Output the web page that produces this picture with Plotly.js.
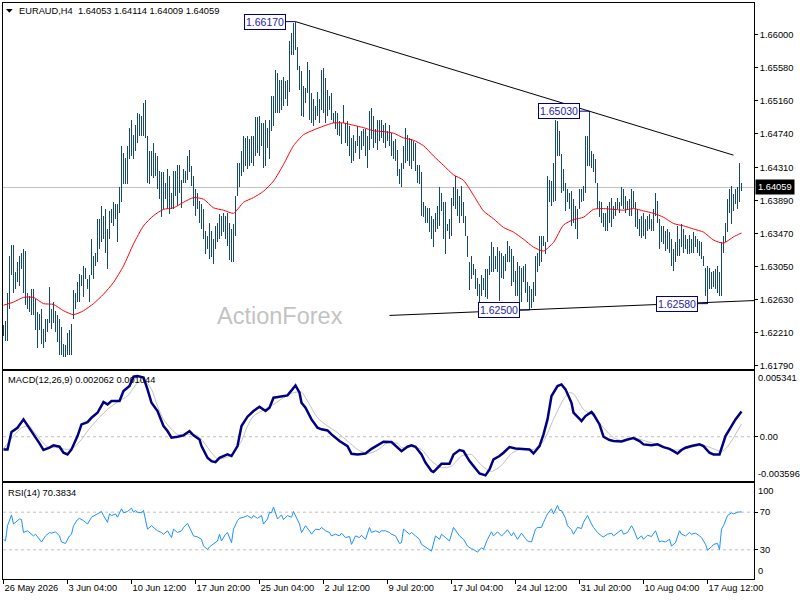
<!DOCTYPE html>
<html><head><meta charset="utf-8">
<script src="https://cdn.plot.ly/plotly-3.0.1.min.js"></script>
<style>html,body{margin:0;padding:0;background:#fff;}#chart{width:800px;height:600px;}</style>
</head><body><div id="chart"></div>
<script>
// ---------- data (EURAUD, H4) ----------
const symbol = "EURAUD,H4";
const lastOHLC = [1.64053, 1.64114, 1.64009, 1.64059];

const highs = [
1.6231,1.6236,1.6272,1.6319,1.6333,1.6333,1.6298,1.6311,1.6319,1.6323,
1.6327,1.6325,1.6272,1.6268,1.6277,1.6277,1.6264,1.6247,1.6245,1.6251,
1.6226,1.6239,1.6239,1.6279,1.6251,1.6260,1.6249,1.6243,1.6239,1.6228,
1.6207,1.6205,1.6220,1.6224,1.6232,1.6275,1.6272,1.6285,1.6296,1.6294,
1.6306,1.6303,1.6289,1.6294,1.6340,1.6319,1.6323,1.6366,1.6366,1.6382,
1.6370,1.6378,1.6353,1.6376,1.6378,1.6387,1.6385,1.6385,1.6406,1.6459,
1.6450,1.6444,1.6459,1.6482,1.6492,1.6473,1.6486,1.6501,1.6499,1.6497,
1.6514,1.6517,1.6471,1.6452,1.6452,1.6463,1.6450,1.6446,1.6427,1.6425,
1.6425,1.6412,1.6429,1.6420,1.6399,1.6427,1.6427,1.6435,1.6435,1.6416,
1.6429,1.6427,1.6446,1.6454,
1.6433,1.6420,1.6404,1.6399,1.6389,1.6385,1.6378,1.6351,1.6344,1.6361,
1.6351,1.6340,1.6357,1.6361,1.6372,1.6370,1.6374,1.6370,1.6374,1.6361,
1.6353,1.6359,1.6395,1.6437,1.6437,1.6452,1.6471,1.6469,1.6471,1.6467,
1.6471,1.6471,1.6495,1.6495,1.6497,1.6488,1.6488,1.6492,1.6482,1.6492,
1.6522,1.6522,1.6556,1.6552,1.6543,1.6543,1.6547,1.6541,1.6543,1.6592,
1.6602,1.6615,1.6617,1.6585,1.6560,1.6554,1.6535,1.6533,1.6566,1.6556,
1.6526,1.6518,1.6509,1.6528,1.6518,1.6556,1.6558,1.6545,1.6530,1.6522,
1.6526,1.6501,1.6503,1.6501,1.6490,1.6488,1.6511,1.6488,1.6490,1.6484,
1.6469,1.6473,1.6465,1.6484,1.6471,1.6478,1.6480,1.6480,1.6471,1.6503,
1.6507,1.6497,
1.6480,1.6492,1.6492,1.6492,1.6486,1.6488,1.6478,1.6486,1.6475,1.6465,
1.6467,1.6454,1.6429,1.6437,1.6459,1.6482,1.6473,1.6469,1.6467,1.6465,
1.6463,1.6435,1.6435,1.6425,1.6387,1.6382,1.6380,1.6380,1.6370,1.6366,
1.6374,1.6382,1.6406,1.6399,1.6387,1.6387,1.6359,1.6366,1.6393,1.6406,
1.6420,1.6404,1.6395,1.6408,1.6387,1.6370,1.6344,1.6311,1.6319,1.6308,
1.6302,1.6291,1.6283,1.6294,1.6291,1.6302,1.6302,1.6319,1.6336,1.6330,
1.6319,1.6330,1.6325,1.6323,1.6319,1.6321,1.6338,1.6332,1.6327,1.6319,
1.6300,1.6311,1.6306,1.6304,1.6306,1.6308,1.6285,1.6281,1.6277,1.6285,
1.6319,1.6323,1.6344,1.6344,1.6344,1.6336,1.6420,1.6416,1.6414,1.6437,
1.6492,1.6490,1.6478,
1.6448,1.6429,1.6412,1.6404,1.6399,1.6401,1.6391,1.6382,1.6378,1.6404,
1.6404,1.6408,1.6471,1.6471,1.6503,1.6452,1.6448,1.6442,1.6412,1.6389,
1.6387,1.6374,1.6374,1.6382,1.6387,1.6393,1.6382,1.6387,1.6393,1.6387,
1.6406,1.6404,1.6395,1.6389,1.6391,1.6404,1.6401,1.6387,1.6378,1.6366,
1.6370,1.6374,1.6366,1.6370,1.6372,1.6366,1.6378,1.6399,1.6389,1.6366,
1.6357,1.6357,1.6351,1.6353,1.6349,1.6340,1.6327,1.6336,1.6357,1.6340,
1.6359,1.6353,1.6346,1.6340,1.6346,1.6340,1.6349,1.6344,1.6340,1.6338,
1.6336,1.6319,1.6304,1.6306,1.6304,1.6298,1.6300,1.6302,1.6306,1.6298,
1.6336,1.6344,1.6361,1.6391,1.6404,1.6408,1.6397,1.6404,1.6406,1.6437,
1.64114];

const lows = [
1.6217,1.6210,1.6210,1.6251,1.6294,1.6272,1.6277,1.6285,1.6281,1.6302,
1.6272,1.6256,1.6251,1.6247,1.6243,1.6243,1.6224,1.6201,1.6224,1.6207,
1.6201,1.6209,1.6222,1.6234,1.6226,1.6234,1.6222,1.6209,1.6192,1.6192,
1.6190,1.6190,1.6192,1.6192,1.6192,1.6239,1.6251,1.6260,1.6260,1.6281,
1.6266,1.6289,1.6277,1.6260,1.6294,1.6289,1.6306,1.6311,1.6327,1.6336,
1.6340,1.6323,1.6302,1.6340,1.6361,1.6357,1.6366,1.6336,1.6374,1.6387,
1.6410,1.6410,1.6410,1.6442,1.6446,1.6442,1.6452,1.6463,1.6471,1.6471,
1.6471,1.6469,1.6412,1.6410,1.6420,1.6418,1.6420,1.6404,1.6391,1.6368,
1.6378,1.6391,1.6378,1.6372,1.6378,1.6378,1.6395,1.6382,1.6399,1.6380,
1.6412,1.6412,1.6416,1.6425,
1.6408,1.6382,1.6370,1.6378,1.6361,1.6353,1.6340,1.6321,1.6327,1.6315,
1.6317,1.6308,1.6327,1.6336,1.6340,1.6344,1.6349,1.6340,1.6332,1.6313,
1.6311,1.6311,1.6344,1.6395,1.6406,1.6420,1.6425,1.6433,1.6429,1.6433,
1.6437,1.6433,1.6446,1.6450,1.6446,1.6459,1.6431,1.6433,1.6456,1.6442,
1.6478,1.6484,1.6501,1.6501,1.6501,1.6505,1.6509,1.6518,1.6509,1.6528,
1.6575,1.6575,1.6581,1.6556,1.6530,1.6497,1.6495,1.6514,1.6526,1.6492,
1.6488,1.6484,1.6492,1.6497,1.6488,1.6505,1.6501,1.6488,1.6497,1.6505,
1.6492,1.6488,1.6480,1.6473,1.6471,1.6461,1.6488,1.6463,1.6459,1.6446,
1.6437,1.6440,1.6450,1.6459,1.6442,1.6454,1.6459,1.6446,1.6431,1.6454,
1.6467,1.6456,
1.6463,1.6454,1.6465,1.6469,1.6463,1.6456,1.6465,1.6459,1.6446,1.6442,
1.6440,1.6420,1.6410,1.6406,1.6429,1.6437,1.6440,1.6433,1.6429,1.6440,
1.6427,1.6412,1.6410,1.6370,1.6368,1.6361,1.6361,1.6349,1.6340,1.6330,
1.6349,1.6353,1.6357,1.6376,1.6340,1.6321,1.6351,1.6340,1.6344,1.6382,
1.6378,1.6370,1.6361,1.6370,1.6361,1.6344,1.6317,1.6275,1.6289,1.6294,
1.6277,1.6268,1.6260,1.6268,1.6275,1.6266,1.6264,1.6294,1.6298,1.6298,
1.6302,1.6298,1.6262,1.6291,1.6289,1.6300,1.6311,1.6311,1.6281,1.6285,
1.6268,1.6268,1.6260,1.6260,1.6285,1.6272,1.6260,1.6250,1.6253,1.6260,
1.6268,1.6298,1.6306,1.6311,1.6332,1.6321,1.6336,1.6387,1.6382,1.6387,
1.6389,1.6446,1.6446,
1.6399,1.6401,1.6376,1.6387,1.6378,1.6357,1.6361,1.6353,1.6340,1.6378,
1.6387,1.6389,1.6399,1.6433,1.6433,1.6431,1.6425,1.6412,1.6378,1.6368,
1.6361,1.6355,1.6351,1.6351,1.6361,1.6355,1.6366,1.6370,1.6378,1.6374,
1.6382,1.6378,1.6374,1.6378,1.6370,1.6370,1.6380,1.6355,1.6353,1.6344,
1.6342,1.6344,1.6340,1.6351,1.6353,1.6351,1.6351,1.6370,1.6361,1.6327,
1.6336,1.6334,1.6325,1.6327,1.6323,1.6306,1.6300,1.6311,1.6319,1.6319,
1.6330,1.6323,1.6327,1.6321,1.6321,1.6323,1.6323,1.6330,1.6323,1.6319,
1.6315,1.6306,1.6268,1.6258,1.6277,1.6277,1.6279,1.6277,1.6272,1.6268,
1.6268,1.6323,1.6336,1.6349,1.6374,1.6359,1.6376,1.6385,1.6378,1.6387,
1.64009];

// moving average (red), sampled along the bars
const maIdx = [0,5,10,15,20,25,30,35,40,45,50,55,60,65,70,75,80,85,90,95,100,105,110,115,120,125,130,135,140,145,150,155,160,165,170,175,180,185,190,195,200,205,210,215,220,225,230,235,240,245,250,255,260,265,270,275,280,285,290,295,300,305,310,315,320,325,330,335,340,345,350,355,360,365,369];
const maVals = [1.6256,1.6260,1.6266,1.6266,1.6258,1.6257,1.6249,1.6244,1.6249,1.6258,1.6270,1.6285,1.6306,1.6334,1.6357,1.6370,1.6378,1.6380,1.6387,1.6393,1.6391,1.6380,1.6377,1.6373,1.6387,1.6393,1.6401,1.6414,1.6435,1.6459,1.6473,1.6479,1.6484,1.6488,1.6488,1.6485,1.6482,1.6478,1.6477,1.6475,1.6469,1.6466,1.6459,1.6446,1.6434,1.6422,1.6415,1.6396,1.6376,1.6366,1.6355,1.6349,1.6340,1.6330,1.6325,1.6336,1.6358,1.6365,1.6368,1.6378,1.6379,1.6378,1.6377,1.6379,1.6376,1.6373,1.6368,1.6360,1.6357,1.6353,1.6349,1.6339,1.6335,1.6343,1.6348];

// trend lines and marked extremes
const upperIdx = [146, 365];   const upperPrice = [1.6617, 1.6447];
const lowerIdx = [193, 376];   const lowerPrice = [1.6243, 1.6262];
const markIdx = [146, 293, 263, 352];
const markPrice = [1.66170, 1.65030, 1.62500, 1.62580];

// MACD(12,26,9)
const macdIdx = [0,2,4,7,10,13,15,18,20,23,25,28,30,32,34,37,39,42,44,47,50,52,54,58,60,63,65,67,70,72,74,77,80,82,84,87,90,93,95,98,99,102,104,106,108,112,114,117,119,122,125,128,131,133,135,138,142,146,148,149,151,154,157,159,162,164,168,172,174,177,181,184,187,190,194,196,199,202,204,206,209,211,214,215,218,219,223,225,228,230,233,235,238,241,243,245,248,250,253,256,260,263,265,268,270,272,274,277,279,281,284,285,288,289,291,294,295,298,300,303,305,309,312,315,318,320,324,327,330,333,335,337,339,341,344,348,350,353,355,358,361,364,366,369];
const macdVals = [-0.00103,-0.00103,0.00038,0.00073,0.00141,0.00073,0.00019,-0.00054,-0.00108,-0.00089,
-0.00070,-0.00081,-0.00130,-0.00144,-0.00103,0.00005,0.00100,0.00119,0.00154,0.00195,
0.00282,0.00263,0.00290,0.00290,0.00371,0.00412,0.00488,0.00493,0.00480,0.00385,
0.00276,0.00209,0.00087,0.00046,-0.00008,0.00000,0.00011,0.00046,0.00011,-0.00022,
-0.00076,-0.00171,-0.00198,-0.00206,-0.00171,-0.00144,-0.00157,-0.00076,0.00087,0.00163,
0.00209,0.00244,0.00209,0.00236,0.00317,0.00325,0.00336,0.00417,0.00358,0.00276,
0.00236,0.00141,0.00073,0.00060,0.00051,0.00019,-0.00035,-0.00076,-0.00138,-0.00144,
-0.00136,-0.00098,-0.00070,-0.00041,-0.00043,-0.00070,
-0.00117,-0.00081,-0.00070,-0.00081,
-0.00144,-0.00211,-0.00279,-0.00287,-0.00238,-0.00220,-0.00220,-0.00144,-0.00108,-0.00117,
-0.00198,-0.00238,-0.00298,-0.00314,-0.00266,-0.00184,-0.00157,-0.00130,-0.00084,-0.00095,
-0.00098,-0.00103,-0.00136,-0.00076,0.00019,0.00141,0.00331,0.00412,0.00425,0.00385,
0.00276,0.00195,0.00146,0.00127,0.00168,0.00201,0.00182,0.00100,0.00000,-0.00027,
-0.00035,-0.00038,-0.00022,-0.00011,-0.00035,-0.00062,-0.00070,-0.00062,-0.00084,-0.00098,
-0.00117,-0.00136,-0.00108,-0.00089,-0.00076,-0.00062,-0.00076,-0.00130,-0.00144,-0.00144,
0.00005,0.00092,0.00141,0.00206];
const sigIdx = [0,5,9,13,15,19,22,27,32,35,39,42,47,52,57,62,67,70,74,77,80,84,87,92,97,100,104,107,112,115,119,122,125,130,135,140,145,149,152,157,162,167,172,177,182,187,192,197,199,204,209,214,219,224,229,234,239,244,249,254,259,265,270,275,280,283,285,290,295,300,305,310,315,320,325,330,335,340,345,350,355,359,362,365,369];
const sigVals = [-0.00098,0.00005,0.00073,0.00087,0.00046,-0.00035,-0.00081,-0.00089,-0.00103,-0.00089,
-0.00022,0.00046,0.00141,0.00222,0.00282,0.00331,0.00439,0.00466,0.00385,0.00249,
0.00141,0.00060,0.00019,0.00019,0.00011,-0.00043,-0.00130,-0.00179,-0.00165,-0.00130,
-0.00035,0.00087,0.00168,0.00217,0.00263,0.00317,0.00358,0.00363,0.00290,0.00154,
0.00087,0.00033,-0.00035,-0.00103,-0.00138,-0.00108,-0.00049,-0.00054,
-0.00089,-0.00081,-0.00103,-0.00198,-0.00252,-0.00238,-0.00157,-0.00144,-0.00233,-0.00282,
-0.00233,-0.00136,-0.00098,-0.00103,-0.00035,0.00141,0.00304,0.00358,0.00350,0.00222,
0.00168,0.00073,-0.00008,-0.00035,-0.00008,-0.00030,-0.00054,-0.00081,-0.00108,-0.00103,
-0.00081,-0.00070,-0.00098,-0.00122,-0.00081,-0.00008,0.00104];
const macdLast = [0.002062, 0.001044];
const macdRange = [-0.003596, 0.005341];

// RSI(14)
const rsiIdx = [0,1,2,4,5,6,8,9,10,12,13,15,16,18,19,21,23,24,26,28,29,31,33,34,35,37,38,40,42,44,46,48,49,50,52,53,54,56,57,59,60,62,64,65,66,67,69,70,72,74,75,77,79,80,82,84,85,87,89,90,92,94,95,97,99,100,102,103,105,107,108,109,111,112,114,115,117,118,120,122,124,125,127,129,130,132,133,134,135,137,139,140,142,144,145,147,148,149,151,153,154,156,158,159,161,163,164,166,168,169,171,173,174,176,178,179,181,183,184,186,188,189,191,193,194,196,198,
199,200,203,204,206,208,209,211,213,214,216,218,219,221,223,225,227,228,230,232,234,235,237,239,240,242,244,245,247,249,250,252,254,255,257,259,261,262,264,266,267,269,270,272,274,275,277,278,279,281,282,284,285,287,289,290,292,293,294,295,297,299,300,302,304,305,307,309,310,312,314,315,317,319,320,322,324,326,328,329,331,333,334,336,338,339,341,343,344,346,348,349,351,352,354,355,357,358,359,360,362,364,365,367,369];
const rsiVals = [41.2,39.4,55.6,67.1,57.4,59.2,62.8,62.1,48.4,50.2,48.4,44.8,46.6,41.2,38.3,44.8,48.4,47.7,49.1,44.8,
38.3,36.8,44.8,46.6,55.6,62.1,63.5,61.0,57.4,64.6,67.1,69.3,70.7,66.4,59.2,68.2,66.4,68.2,64.6,73.6,
69.3,70.7,74.3,70.0,71.8,70.0,69.3,71.8,52.0,55.6,53.8,50.2,48.4,46.6,50.2,43.0,52.0,48.4,50.2,53.8,
58.1,50.2,44.8,43.7,41.2,34.0,30.4,33.2,36.5,39.4,46.6,39.4,46.6,48.4,37.6,52.0,61.0,63.5,64.6,66.4,
63.5,66.4,63.5,66.4,57.4,62.8,70.0,69.3,75.4,62.8,67.1,62.1,66.4,64.6,70.7,61.0,57.4,48.4,55.6,50.2,
46.6,52.0,51.3,53.8,50.2,48.4,44.8,46.6,44.8,47.7,43.0,44.1,35.8,44.8,43.0,45.5,41.2,53.8,48.4,50.2,
48.4,50.2,50.2,48.4,46.6,44.8,36.8,
37.6,52.0,46.6,48.4,44.8,41.2,35.8,33.2,30.4,28.6,44.8,41.2,46.6,43.0,39.4,53.8,48.4,44.8,41.2,34.0,
31.1,30.4,27.5,32.2,30.4,41.2,49.1,44.8,49.1,44.8,46.6,51.3,44.8,48.4,41.2,47.7,41.9,39.4,38.3,52.0,
53.8,53.8,59.2,68.2,73.6,68.2,77.2,71.8,71.8,63.5,55.6,51.3,46.6,53.8,52.7,59.2,66.4,61.0,57.4,53.8,
48.4,44.8,43.7,46.6,47.7,44.8,48.4,51.3,46.6,48.4,55.6,52.0,41.2,44.8,41.2,45.5,44.1,50.2,38.3,39.4,
38.3,41.2,34.0,37.6,50.2,46.6,44.8,48.4,46.6,47.7,44.8,43.0,35.8,29.6,33.2,35.8,36.8,30.4,52.0,55.6,
66.4,69.3,68.2,70.0,70.38];
const rsiLast = 70.3834;
const rsiLevels = [70, 30];
const rsiBounds = [100, 0];

// price axis labels and time axis labels
const priceTicks = [1.66000,1.65580,1.65160,1.64740,1.64310,1.63890,1.63470,1.63050,1.62630,1.62210,1.61790];
const timeTickIdx = [0,32,64,96,128,160,192,224,256,288,320,352];
const timeTickLabels = ['26 May 2026','3 Jun 04:00','10 Jun 12:00','17 Jun 20:00','25 Jun 04:00','2 Jul 12:00','9 Jul 20:00','17 Jul 04:00','24 Jul 12:00','31 Jul 20:00','10 Aug 04:00','17 Aug 12:00'];

// ---------- build ----------
const N = Math.min(highs.length, lows.length);
const barX = [], barY = [];
for (let k = 0; k < N; k++) { barX.push(k, k, null); barY.push(lows[k], highs[k], null); }

const FONT = 'Liberation Sans, Arial, sans-serif';
const FS = 9.3;
const PX = X => (X - 3) / 751;
const PY = Y => (579 - Y) / 576;
const XR = [-0.25, 375.25];

const data = [
  {type:'scatter', mode:'lines', name:'bars', x:barX, y:barY, connectgaps:false,
   line:{color:'#15496b', width:1}, hoverinfo:'skip', xaxis:'x', yaxis:'y'},
  {type:'scatter', mode:'lines', name:'ma', x:maIdx, y:maVals,
   line:{color:'#ff0000', width:1, shape:'spline', smoothing:0.6}, xaxis:'x', yaxis:'y'},
  {type:'scatter', mode:'lines', name:'upper', x:upperIdx, y:upperPrice,
   line:{color:'#000000', width:1}, xaxis:'x', yaxis:'y'},
  {type:'scatter', mode:'lines', name:'lower', x:lowerIdx, y:lowerPrice,
   line:{color:'#000000', width:1}, xaxis:'x', yaxis:'y'},
  {type:'scatter', mode:'lines', name:'signal', x:sigIdx, y:sigVals,
   line:{color:'#c0c0c0', width:1, shape:'spline', smoothing:0.6}, xaxis:'x2', yaxis:'y2'},
  {type:'scatter', mode:'lines', name:'macd', x:macdIdx, y:macdVals,
   line:{color:'#000080', width:2.5}, xaxis:'x2', yaxis:'y2'},
  {type:'scatter', mode:'lines', name:'rsi', x:rsiIdx, y:rsiVals,
   line:{color:'#1e90ff', width:1}, xaxis:'x3', yaxis:'y3'}
];

const axBase = {showgrid:false, zeroline:false, showline:true, mirror:true, linecolor:'#000', linewidth:1, fixedrange:true};
const tickFont = {family:FONT, size:FS, color:'#000'};

const annotations = [
  {xref:'paper', yref:'paper', x:PX(16.5), y:PY(11), xanchor:'left', yanchor:'middle', showarrow:false,
   text: symbol + '  ' + lastOHLC.map(v => v.toFixed(5)).join(' '), font:{family:FONT, size:FS, color:'#000'}},
  {xref:'paper', yref:'paper', x:PX(6), y:PY(380), xanchor:'left', yanchor:'middle', showarrow:false,
   text:'MACD(12,26,9) ' + macdLast.map(v => v.toFixed(6)).join(' '), font:{family:FONT, size:FS, color:'#000'}},
  {xref:'paper', yref:'paper', x:PX(6), y:PY(492.5), xanchor:'left', yanchor:'middle', showarrow:false,
   text:'RSI(14) ' + rsiLast.toFixed(4), font:{family:FONT, size:FS, color:'#000'}},
  {xref:'paper', yref:'paper', x:PX(279.5), y:PY(316), xanchor:'center', yanchor:'middle', showarrow:false,
   text:'ActionForex', font:{family:FONT, size:23.5, color:'#c3c3c3'}},
  {xref:'paper', yref:'y', x:1, y:lastOHLC[3], xanchor:'left', yanchor:'middle', xshift:1, showarrow:false,
   text:lastOHLC[3].toFixed(5), bgcolor:'#000', borderpad:2, font:{family:FONT, size:FS, color:'#fff'}},
  {xref:'paper', yref:'y2', x:1, y:macdRange[1], xanchor:'left', yanchor:'top', xshift:2, showarrow:false,
   text:macdRange[1].toFixed(6), font:tickFont},
  {xref:'paper', yref:'y2', x:1, y:macdRange[0], xanchor:'left', yanchor:'bottom', xshift:2, showarrow:false,
   text:macdRange[0].toFixed(6), font:tickFont},
  {xref:'paper', yref:'y3', x:1, y:rsiBounds[0], xanchor:'left', yanchor:'top', xshift:2, showarrow:false,
   text:String(rsiBounds[0]), font:tickFont},
  {xref:'paper', yref:'y3', x:1, y:rsiBounds[1], xanchor:'left', yanchor:'bottom', xshift:2, showarrow:false,
   text:String(rsiBounds[1]), font:tickFont}
];
for (let k = 0; k < markIdx.length; k++) {
  annotations.push({xref:'x', yref:'y', x:markIdx[k], y:markPrice[k], text:markPrice[k].toFixed(5),
    showarrow:true, arrowhead:0, arrowwidth:1, arrowcolor:'#000080', ax:-31, ay:0, standoff:0,
    bordercolor:'#000080', borderwidth:1, borderpad:1, bgcolor:'#ffffff',
    font:{family:FONT, size:10.5, color:'#2424a8'}});
}

const shapes = [
  // small drop-down triangle in the header
  {type:'path', xref:'paper', yref:'paper',
   path:'M ' + PX(6) + ',' + PY(9) + ' L ' + PX(12.7) + ',' + PY(9) + ' L ' + PX(9.35) + ',' + PY(12.8) + ' Z',
   fillcolor:'#000', line:{width:0}},
  {type:'line', xref:'paper', yref:'y', x0:0, x1:1, y0:lastOHLC[3], y1:lastOHLC[3], layer:'below',
   line:{color:'#c0c0c0', width:1}},
  {type:'line', xref:'paper', yref:'y2', x0:0, x1:1, y0:0, y1:0, layer:'below',
   line:{color:'#c0c0c0', width:1, dash:'3px,3px'}}
];
rsiLevels.forEach(v => shapes.push({type:'line', xref:'paper', yref:'y3', x0:0, x1:1, y0:v, y1:v, layer:'below',
   line:{color:'#c0c0c0', width:1, dash:'3px,3px'}}));

const layout = {
  width:800, height:600, margin:{l:3, r:46, t:3, b:21, pad:0},
  paper_bgcolor:'#ffffff', plot_bgcolor:'#ffffff', showlegend:false,
  font:{family:FONT, size:FS, color:'#000'},
  xaxis: Object.assign({}, axBase, {domain:[0,1], anchor:'y', range:XR, showticklabels:false, ticks:''}),
  yaxis: Object.assign({}, axBase, {domain:[0.36458,1], anchor:'x', side:'right', range:[1.61748,1.66407],
    tickvals:priceTicks, tickformat:'.5f', ticks:'outside', ticklen:3, tickcolor:'#000', tickfont:tickFont}),
  xaxis2: Object.assign({}, axBase, {domain:[0,1], anchor:'y2', range:XR, showticklabels:false, ticks:''}),
  yaxis2: Object.assign({}, axBase, {domain:[0.17014,0.36111], anchor:'x2', side:'right', range:macdRange,
    tickvals:[0], ticktext:['0.00'], ticks:'outside', ticklen:3, tickcolor:'#000', tickfont:tickFont}),
  xaxis3: Object.assign({}, axBase, {domain:[0,1], anchor:'y3', range:XR,
    tickvals:timeTickIdx, ticktext:timeTickLabels, ticks:'outside', ticklen:4, tickcolor:'#000',
    ticklabelposition:'outside right', tickangle:0, tickfont:tickFont}),
  yaxis3: Object.assign({}, axBase, {domain:[0,0.16667], anchor:'x3', side:'right', range:[-1,101],
    tickvals:rsiLevels, ticks:'outside', ticklen:3, tickcolor:'#000', tickfont:tickFont}),
  annotations: annotations,
  shapes: shapes
};

Plotly.newPlot('chart', data, layout, {displayModeBar:false, staticPlot:true}).then(gd => {
  document.querySelectorAll('.scatterlayer .trace').forEach(g => {
    try {
      const cd = g.__data__;
      if (cd && cd[0] && cd[0].trace && cd[0].trace.name === 'bars') {
        g.querySelectorAll('path').forEach(p => p.style.shapeRendering = 'crispEdges');
      }
    } catch (e) {}
  });
});
</script>
</body></html>
